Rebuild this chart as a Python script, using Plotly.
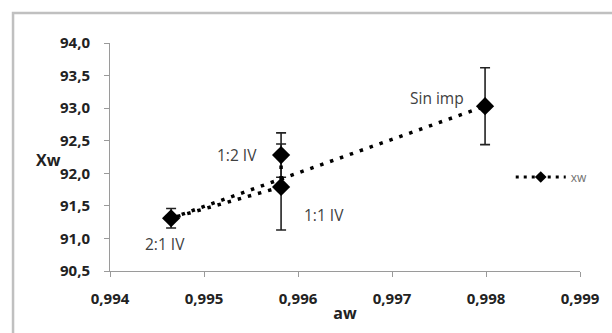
import plotly.graph_objects as go

# Data
labels = ["1:2 IV", "1:1 IV", "2:1 IV", "Sin imp"]
aw = [0.99582, 0.99582, 0.99465, 0.99799]
xw = [92.28, 91.79, 91.31, 93.03]
err = [0.34, 0.66, 0.15, 0.59]

x_ticks = [0.994, 0.995, 0.996, 0.997, 0.998, 0.999]
x_ticklabels = ["0,994", "0,995", "0,996", "0,997", "0,998", "0,999"]
y_ticks = [90.5, 91.0, 91.5, 92.0, 92.5, 93.0, 93.5, 94.0]
y_ticklabels = ["90,5", "91,0", "91,5", "92,0", "92,5", "93,0", "93,5", "94,0"]

W, H = 612, 333
ml, mr, mt, mb = 110, 27, 43, 62
pw, ph = W - ml - mr, H - mt - mb

DOT = "3.5px,7px"

fig = go.Figure()
fig.add_trace(go.Scatter(
    x=aw, y=xw, mode="lines+markers", name="xw", showlegend=False,
    line=dict(color="black", width=3.5, dash=DOT),
    marker=dict(symbol="diamond", size=14, color="black"),
    error_y=dict(type="data", array=err, visible=True, color="#222222", thickness=1.6, width=5),
))
# legend entry (same series style, smaller marker as in the legend key)
fig.add_trace(go.Scatter(
    x=[None], y=[None], mode="lines+markers", name="xw",
    line=dict(color="black", width=3, dash="3px,5px"),
    marker=dict(symbol="diamond", size=9, color="black"),
))

# point labels
offsets = {"1:2 IV": (-44, 0), "1:1 IV": (43, -28), "2:1 IV": (-6, -26), "Sin imp": (-48, 8)}
for lab, xv, yv in zip(labels, aw, xw):
    dx, dy = offsets[lab]
    fig.add_annotation(x=xv, y=yv, text=lab, showarrow=False, xshift=dx, yshift=dy,
                       font=dict(family="Open Sans", size=15.5, color="#404040"))

def px_x(p):
    return (p - ml) / pw
def px_y(p):
    return (H - mb - p) / ph

# outer chart border (extends beyond visible area like the reference)
fig.add_shape(type="rect", xref="paper", yref="paper",
              x0=px_x(12), x1=px_x(640), y0=px_y(360), y1=px_y(13),
              line=dict(color="#c0c0c0", width=2.5), fillcolor="rgba(0,0,0,0)", layer="below")

axis_common = dict(showgrid=False, zeroline=False, showline=True, linecolor="#9a9a9a", linewidth=1,
                   ticks="outside", ticklen=5, tickcolor="#9a9a9a",
                   tickfont=dict(family="Open Sans", size=15, color="#222222", weight="bold"))

fig.update_xaxes(range=[0.994, 0.999], tickvals=x_ticks, ticktext=x_ticklabels, ticklabelstandoff=9,
                 title=dict(text="aw", font=dict(family="Open Sans", size=16, color="#222222", weight="bold"), standoff=0),
                 **axis_common)
fig.update_yaxes(range=[90.5, 94.0], tickvals=y_ticks, ticktext=y_ticklabels, ticklabelstandoff=11,
                 **axis_common)
fig.add_annotation(xref="paper", yref="paper", x=px_x(33), y=px_y(160), text="<b>Xw</b>", showarrow=False,
                   font=dict(family="Open Sans", size=16, color="#222222"))

fig.update_layout(
    width=W, height=H, margin=dict(l=ml, r=mr, t=mt, b=mb),
    paper_bgcolor="white", plot_bgcolor="white",
    showlegend=True,
    legend=dict(x=px_x(515), y=px_y(177), xanchor="left", yanchor="middle", itemwidth=50,
                font=dict(family="Open Sans", size=12, color="#707070"), bgcolor="rgba(0,0,0,0)"),
)

fig.write_html("out.html")
